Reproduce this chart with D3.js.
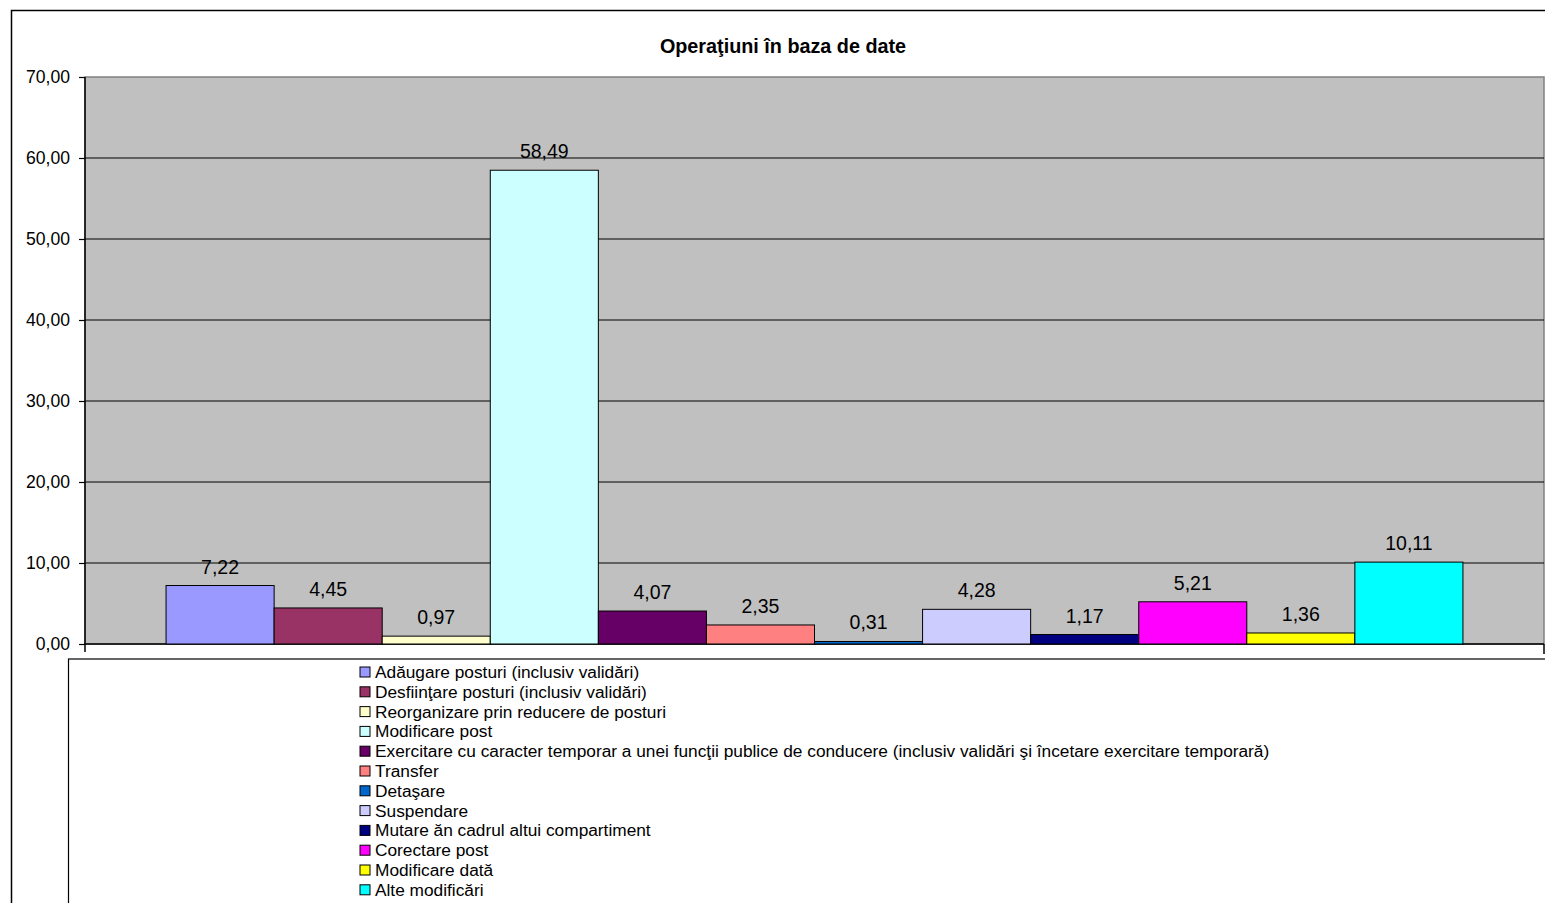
<!DOCTYPE html>
<html><head><meta charset="utf-8">
<script src="https://cdn.jsdelivr.net/npm/d3@7"></script>
<style>body{margin:0;background:#fff}svg{display:block;font-family:"Liberation Sans",Arial,sans-serif}</style>
</head><body><svg id="c" width="1545" height="903"></svg>
<script>
const title = "Operaţiuni în baza de date";
const categories = [
  "Adăugare posturi (inclusiv validări)",
  "Desfiinţare posturi (inclusiv validări)",
  "Reorganizare prin reducere de posturi",
  "Modificare post",
  "Exercitare cu caracter temporar a unei funcţii publice de conducere (inclusiv validări şi încetare exercitare temporară)",
  "Transfer",
  "Detaşare",
  "Suspendare",
  "Mutare ăn cadrul altui compartiment",
  "Corectare post",
  "Modificare dată",
  "Alte modificări"
];
const values = [7.22, 4.45, 0.97, 58.49, 4.07, 2.35, 0.31, 4.28, 1.17, 5.21, 1.36, 10.11];
const colors = ["#9999FF","#993366","#FFFFCC","#CCFFFF","#660066","#FF8080","#0066CC","#CCCCFF","#000080","#FF00FF","#FFFF00","#00FFFF"];
const yTicks = [0,10,20,30,40,50,60,70];

const svg = d3.select("#c");
const fmt = v => d3.format(".2f")(v).replace(".", ",");

// outer frame
svg.append("rect").attr("x",11.5).attr("y",10.5).attr("width",1540).attr("height",900)
  .attr("fill","none").attr("stroke","#000").attr("stroke-width",1.5);

const L = 85, R = 1544, T = 77, B = 644;
const y = d3.scaleLinear().domain([0,70]).range([B,T]);
const x = d3.scaleBand().domain(categories).range([L,R]).paddingInner(0).paddingOuter(0.75);

// plot background
svg.append("rect").attr("x",L).attr("y",T).attr("width",R-L).attr("height",B-T)
  .attr("fill","#C0C0C0").attr("stroke","#808080").attr("stroke-width",1.5);

// gridlines
svg.append("g").selectAll("line").data(yTicks.filter(d=>d>0 && d<70)).join("line")
  .attr("x1",L).attr("x2",R).attr("y1",d=>y(d)).attr("y2",d=>y(d))
  .attr("stroke","#000").attr("stroke-width",1.2);

// y axis
const yAxis = d3.axisLeft(y).tickValues(yTicks).tickSize(6).tickSizeOuter(0).tickFormat(fmt);
const ga = svg.append("g").attr("transform",`translate(${L},0)`).call(yAxis);
ga.select(".domain").attr("stroke","#000").attr("stroke-width",1.5).attr("d",`M0,${T}V${B+8}`);
ga.selectAll(".tick line").attr("stroke","#000").attr("stroke-width",1.2);
ga.selectAll(".tick text").attr("font-size",17.6).attr("fill","#000").attr("x",-15)
  .attr("font-family","Liberation Sans, Arial, sans-serif");

// x axis line
svg.append("line").attr("x1",L).attr("x2",R).attr("y1",B).attr("y2",B).attr("stroke","#000").attr("stroke-width",1.5);
svg.append("line").attr("x1",R).attr("x2",R).attr("y1",B).attr("y2",B+10).attr("stroke","#000").attr("stroke-width",1.5);

// bars
svg.append("g").selectAll("rect").data(values).join("rect")
  .attr("x",(d,i)=>x(categories[i])).attr("width",x.bandwidth())
  .attr("y",d=>y(d)).attr("height",d=>B-y(d))
  .attr("fill",(d,i)=>colors[i]).attr("stroke","#000").attr("stroke-width",1);

// labels
svg.append("g").selectAll("text").data(values).join("text")
  .attr("x",(d,i)=>x(categories[i])+x.bandwidth()/2).attr("y",d=>y(d)-12)
  .attr("text-anchor","middle").attr("font-size",19.5).attr("fill","#000").text(fmt);

// title
svg.append("text").attr("x",783).attr("y",53).attr("text-anchor","middle")
  .attr("font-size",19.8).attr("font-weight","bold").text(title);

// legend box
svg.append("rect").attr("x",68.5).attr("y",659).attr("width",1500).attr("height",300)
  .attr("fill","#fff").attr("stroke","#000").attr("stroke-width",1.2);
const lg = svg.append("g").selectAll("g").data(categories).join("g")
  .attr("transform",(d,i)=>`translate(360,${672 + i*19.8})`);
lg.append("rect").attr("x",0).attr("y",-5).attr("width",10).attr("height",10)
  .attr("fill",(d,i)=>colors[i]).attr("stroke","#000").attr("stroke-width",1);
lg.append("text").attr("x",15).attr("y",6).attr("font-size",17.3).attr("fill","#000").text(d=>d);
</script></body></html>
